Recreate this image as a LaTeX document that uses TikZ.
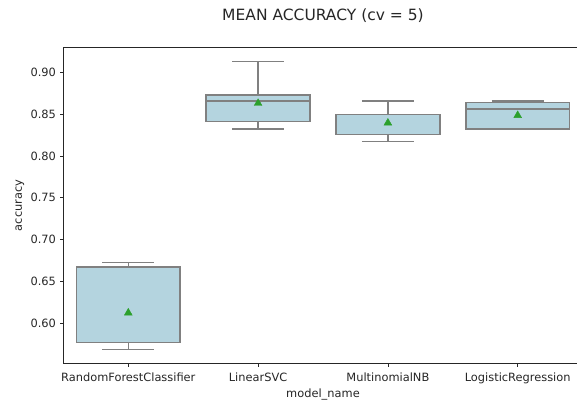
\documentclass[tikz,border=0pt]{standalone}
\usepackage{fontspec}
\setmainfont{DejaVu Sans}
\usetikzlibrary{positioning}
\usetikzlibrary{shapes.geometric}
\definecolor{boxfill}{RGB}{180,212,223}
\definecolor{boxedge}{RGB}{128,128,128}
\definecolor{meangreen}{HTML}{2CA02C}
\definecolor{spine}{RGB}{38,38,38}
\tikzset{
  label/.style     = { inner sep=0pt, font=\fontsize{11.4}{13}\selectfont, text=spine },
  xtick/.style     = { label, anchor=base, yshift=-17.9pt },
  ytick/.style     = { label, anchor=east, xshift=-7.3pt },
  axis/.style      = { draw=spine, line width=0.8pt },
  bx/.style        = { draw=boxedge, line width=1.5pt },
  boxbody/.style   = { bx, fill=boxfill },
  whisker/.style   = { bx, line cap=butt },
  mean/.style      = { regular polygon, regular polygon sides=3, minimum size=9pt,
                       inner sep=0pt, fill=meangreen, draw=meangreen },
}

\begin{document}
\begin{tikzpicture}[x=129.8pt,y=836.7pt]
  \useasboundingbox (-0.9884,0.5095) rectangle (3.4569,0.9864);

  \node (title) [anchor=base,font=\fontsize{15.5}{18}\selectfont,text=spine] at (1.5,0.9617)
        {MEAN ACCURACY (cv = 5)};

  \filldraw [boxbody] (-0.4,0.5768) rectangle (0.4,0.6673);
  \draw [whisker] (0,0.6673) -- (0,0.6729);
  \draw [whisker] (-0.2,0.6729) -- (0.2,0.6729);
  \draw [whisker] (0,0.5768) -- (0,0.5689);
  \draw [whisker] (-0.2,0.5689) -- (0.2,0.5689);
  \draw [bx] (-0.4,0.5768) -- (0.4,0.5768);
  \node (mrfc) [mean] at (0,0.6125) {};

  \filldraw [boxbody] (0.6,0.8410) rectangle (1.4,0.8729);
  \draw [whisker] (1,0.8729) -- (1,0.9131);
  \draw [whisker] (0.8,0.9131) -- (1.2,0.9131);
  \draw [whisker] (1,0.8410) -- (1,0.8322);
  \draw [whisker] (0.8,0.8322) -- (1.2,0.8322);
  \draw [bx] (0.6,0.8657) -- (1.4,0.8657);
  \node (msvc) [mean] at (1,0.8630) {};

  \filldraw [boxbody] (1.6,0.8254) rectangle (2.4,0.8493);
  \draw [whisker] (2,0.8493) -- (2,0.8657);
  \draw [whisker] (1.8,0.8657) -- (2.2,0.8657);
  \draw [whisker] (2,0.8254) -- (2,0.8171);
  \draw [whisker] (1.8,0.8171) -- (2.2,0.8171);
  \draw [bx] (1.6,0.8493) -- (2.4,0.8493);
  \node (mnb) [mean] at (2,0.8395) {};

  \filldraw [boxbody] (2.6,0.8322) rectangle (3.4,0.8641);
  \draw [whisker] (3,0.8641) -- (3,0.8657);
  \draw [whisker] (2.8,0.8657) -- (3.2,0.8657);
  \draw [whisker] (2.8,0.8322) -- (3.2,0.8322);
  \draw [bx] (2.6,0.8561) -- (3.4,0.8561);
  \node (mlr) [mean] at (3,0.8485) {};

  \draw [axis] (3.4569,0.9299) -- (-0.5,0.9299) -- (-0.5,0.5522) -- (3.4569,0.5522);

  \foreach \v in {0.60,0.65,0.70,0.75,0.80,0.85,0.90} {
    \draw [axis] (-0.5,\v) -- ++(-3.5pt,0);
    \node [ytick] at (-0.5,\v) {\v};
  }
  \foreach \i in {0,...,3}
    \draw [axis] (\i,0.5522) -- ++(0,-3.5pt);

  \node (rfc) [xtick] at (0,0.5522) {RandomForestClassifier};
  \node (svc) [xtick] at (1,0.5522) {LinearSVC};
  \node (nb)  [xtick] at (2,0.5522) {MultinomialNB};
  \node (lr)  [xtick] at (3,0.5522) {LogisticRegression};

  \node (xlabel) [label,anchor=base] at (1.5,0.5112) {model\_name};
  \node (ylabel) [label,anchor=base,rotate=90] at (-0.819,0.741) {accuracy};
\end{tikzpicture}
\end{document}
